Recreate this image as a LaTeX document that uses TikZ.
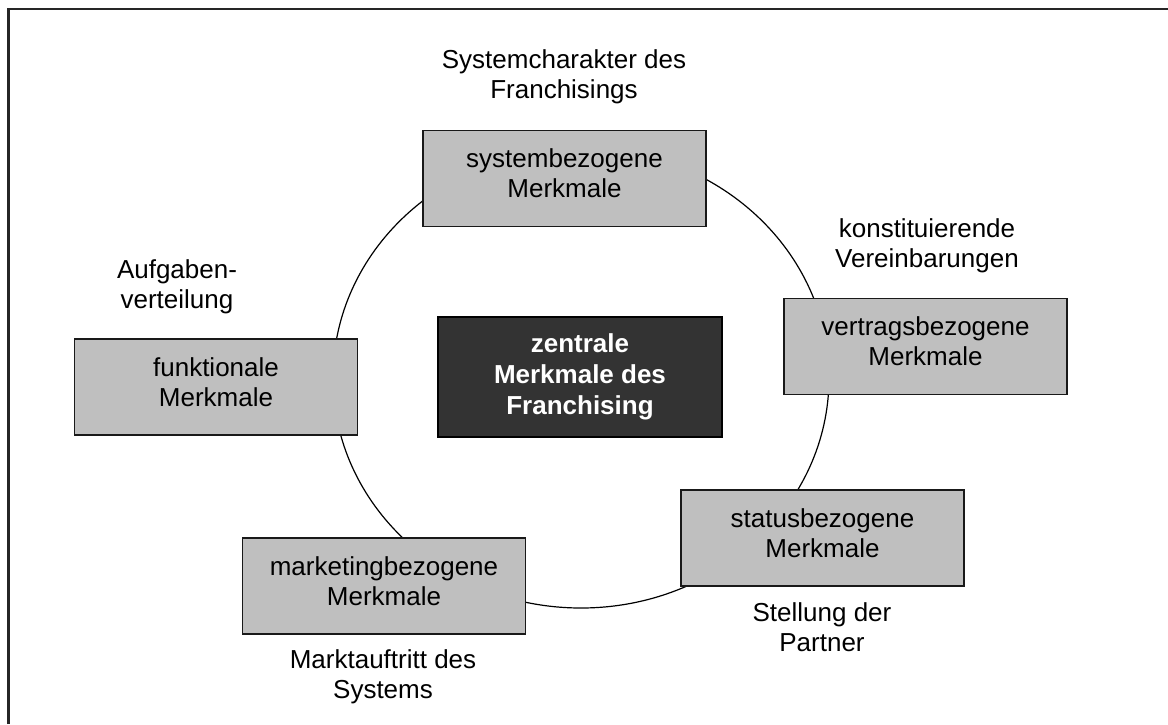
\documentclass[tikz,border=0pt]{standalone}
\usepackage{fontspec}
\setmainfont{Liberation Sans}
\usetikzlibrary{shapes.geometric}

\begin{document}
\begin{tikzpicture}[x=1pt, y=-1pt,
    merkmal/.style={rectangle, draw=black!90, line width=1.6pt, fill=gray!50, minimum width=283, minimum height=96, text depth=10pt, align=center, font=\fontsize{26}{30}\selectfont},
    zentral/.style={rectangle, draw=black, line width=1.6pt, fill=black!80, text=white, minimum width=284, minimum height=120, align=center, font=\fontsize{26}{31}\selectfont\bfseries},
    beschrift/.style={align=center, inner sep=0pt, font=\fontsize{26}{30}\selectfont},
    ring/.style={ellipse, draw=black, line width=1.2pt, minimum width=496, minimum height=460, inner sep=0pt}
]
\useasboundingbox (0,0) rectangle (1168,724);
\draw[line width=2.2pt, black!85] (8.5,724) -- (8.5,9) -- (1168,9);

\node[ring] (kreis) at (581,378) {};

\node[zentral] (zentrale) at (580,377) {zentrale\\Merkmale des\\Franchising};

\node[merkmal] (system) at (564.5,178.5) {systembezogene\\Merkmale};
\node[merkmal] (vertrag) at (925.5,346.5) {vertragsbezogene\\Merkmale};
\node[merkmal] (status) at (822.5,538) {statusbezogene\\Merkmale};
\node[merkmal] (marketing) at (384,586) {marketingbezogene\\Merkmale};
\node[merkmal] (funktion) at (216,387) {funktionale\\Merkmale};

\node[beschrift] (systemtxt) at (564,77) {Systemcharakter des\\Franchisings};
\node[beschrift] (vertragtxt) at (927,246) {konstituierende\\Vereinbarungen};
\node[beschrift] (funktiontxt) at (177,287) {Aufgaben-\\verteilung};
\node[beschrift] (statustxt) at (822,627) {Stellung der\\Partner};
\node[beschrift] (marketingtxt) at (383,677) {Marktauftritt des\\Systems};
\end{tikzpicture}
\end{document}
